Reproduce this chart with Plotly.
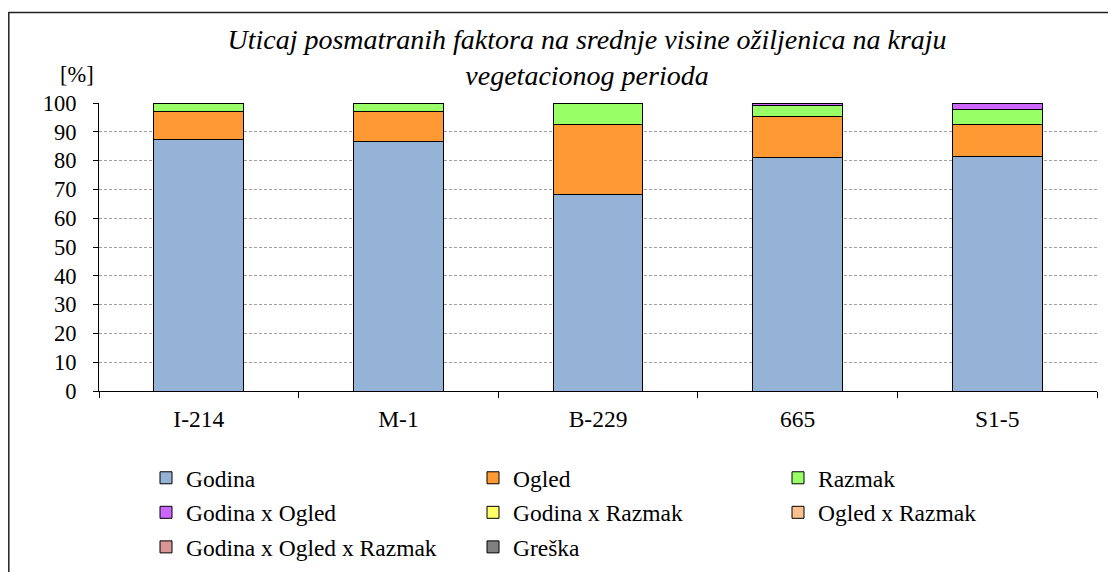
import plotly.graph_objects as go

categories = ["I-214", "M-1", "B-229", "665", "S1-5"]
series_names = ["Godina", "Ogled", "Razmak", "Godina x Ogled", "Godina x Razmak",
                "Ogled x Razmak", "Godina x Ogled x Razmak", "Greška"]
godina = [87.4, 86.8, 68.1, 81.0, 81.4]
ogled = [9.6, 10.2, 24.3, 14.2, 11.2]
razmak = [2.9, 2.8, 7.5, 3.8, 5.0]
godina_x_ogled = [0.1, 0.1, 0.0, 0.7, 2.3]
godina_x_razmak = [0.0, 0.0, 0.0, 0.1, 0.0]
ogled_x_razmak = [0.0, 0.0, 0.0, 0.1, 0.0]
godina_x_ogled_x_razmak = [0.0, 0.0, 0.0, 0.0, 0.0]
greska = [0.0, 0.1, 0.1, 0.1, 0.1]
y_ticks = [0, 10, 20, 30, 40, 50, 60, 70, 80, 90, 100]

values = [godina, ogled, razmak, godina_x_ogled, godina_x_razmak,
          ogled_x_razmak, godina_x_ogled_x_razmak, greska]
colors = ["#95B3D7", "#FF9933", "#99FF66", "#CC66FF", "#FFFF66",
          "#FAC090", "#D99694", "#808080"]
legend_of = ["legend", "legend2", "legend3", "legend", "legend2",
             "legend3", "legend", "legend2"]

FONT = "Liberation Serif"
OFF = 8  # page body margin

fig = go.Figure()
for name, vals, col, lg in zip(series_names, values, colors, legend_of):
    fig.add_trace(go.Bar(
        x=categories, y=vals, name=name, legend=lg, legendgroup=name,
        marker=dict(color=col, line=dict(color="black", width=1)),
        width=0.45,
    ))

W, H = 1116 - OFF, 572 - OFF
L, R, T, B = 99 - OFF, 19, 103 - OFF, 181
pw, ph = W - L - R, H - T - B

def px_x(x):
    return (x - OFF - L) / pw

def px_y(y):
    return (H - B - (y - OFF)) / ph

leg_common = dict(
    orientation="v", font=dict(family=FONT, size=23.5, color="black"),
    bgcolor="rgba(0,0,0,0)", tracegroupgap=1, yanchor="top", xanchor="left",
    traceorder="grouped",
)
fig.update_layout(
    width=W, height=H,
    margin=dict(l=L, r=R, t=T, b=B, autoexpand=False),
    paper_bgcolor="white", plot_bgcolor="white",
    barmode="stack", bargap=0.55,
    font=dict(family=FONT, size=22, color="black"),
    title=dict(
        text="Uticaj posmatranih faktora na srednje visine ožiljenica na kraju<br>vegetacionog perioda",
        font=dict(family=FONT, size=28, color="black", style="italic"),
        x=px_x(587), xref="paper", xanchor="center",
        y=1 - (49 - OFF) / H, yref="container", yanchor="middle",
    ),
    xaxis=dict(
        showline=True, linecolor="black", linewidth=1,
        ticks="outside", ticklen=6, tickcolor="black", tickson="boundaries",
        tickfont=dict(family=FONT, size=23.5, color="black"),
        showgrid=False, ticklabelstandoff=7,
    ),
    yaxis=dict(
        range=[0, 100], tickvals=y_ticks, showline=True, linecolor="black", linewidth=1,
        ticks="outside", ticklen=5, tickcolor="black",
        tickfont=dict(family=FONT, size=22.5, color="black"),
        showgrid=True, gridcolor="#A0A0A0", griddash="3px,2px", gridwidth=1,
        zeroline=False, ticklabelstandoff=12,
    ),
    legend=dict(x=px_x(146), y=px_y(456), **leg_common),
    legend2=dict(x=px_x(473), y=px_y(456), **leg_common),
    legend3=dict(x=px_x(778), y=px_y(456), **leg_common),
    annotations=[dict(
        text="[%]", x=px_x(77), y=px_y(75), xref="paper", yref="paper",
        showarrow=False, font=dict(family=FONT, size=22.5, color="black"),
        xanchor="center", yanchor="middle",
    )],
    shapes=[
        dict(type="line", xref="paper", yref="paper", x0=px_x(8.5), x1=px_x(1116),
             y0=px_y(12.5), y1=px_y(12.5), line=dict(color="#222", width=1.5)),
        dict(type="line", xref="paper", yref="paper", x0=px_x(8.8), x1=px_x(8.8),
             y0=px_y(12), y1=px_y(572), line=dict(color="#222", width=1.5)),
    ],
)

fig.write_html("out.html")
